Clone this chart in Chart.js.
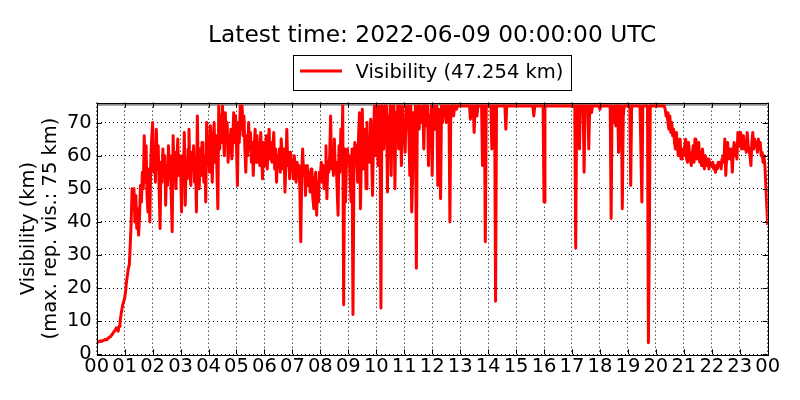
<!DOCTYPE html>
<html>
<head>
<meta charset="utf-8">
<title>Visibility</title>
<script src="https://cdn.jsdelivr.net/npm/chart.js@4/dist/chart.umd.min.js"></script>
<style>
    html, body { margin: 0; padding: 0; background: #fff; }
    #wrap { width: 800px; height: 400px; }
</style>
</head>
<body>
<div id="wrap"><canvas id="visChart" width="800" height="400"></canvas></div>
<script>
// Tick labels on the time axis (hours UTC)
const hourLabels = ['00', '01', '02', '03', '04', '05', '06', '07', '08', '09', '10', '11',
                    '12', '13', '14', '15', '16', '17', '18', '19', '20', '21', '22', '23', '00'];

// Visibility in km, one value every 2 minutes from 00:00 to 24:00 (30 per hour)
const stepMinutes = 2;
const visibility = [
    // 00
    3.6, 3.8, 3.7, 3.9, 4.1, 3.9, 4.0, 4.2, 4.3, 4.5, 4.4, 4.6, 4.8, 5.0, 5.2,
    5.4, 5.8, 6.2, 6.6, 7.0, 7.4, 8.0, 7.6, 7.0, 8.5, 9.8, 11.8, 13.5, 15, 16,
    // 01
    17, 19, 22, 24, 26, 27, 33, 40, 50, 45, 50, 40, 48, 38, 44,
    36, 42, 51, 46, 55, 50, 66, 52, 63, 48, 43, 56, 40, 58, 65,
    // 02
    70, 55, 62, 52, 68, 56, 63, 50, 38, 58, 52, 62, 54, 60, 45,
    57, 51, 63, 53, 60, 48, 37, 66, 55, 61, 50, 58, 65, 54, 60,
    // 03
    58, 43, 60, 52, 67, 45, 58, 53, 62, 68, 55, 51, 61, 56, 63,
    52, 59, 43, 72, 55, 50, 62, 54, 64, 57, 52, 60, 46, 70, 62,
    // 04
    62, 55, 69, 60, 52, 64, 70, 58, 66, 56, 44, 75, 62, 72, 64,
    75, 66, 60, 73, 64, 70, 58, 66, 61, 68, 59, 65, 73, 64, 72,
    // 05
    63, 51, 70, 64, 75, 68, 75, 66, 72, 62, 55, 66, 60, 70, 62,
    67, 58, 64, 54, 62, 68, 58, 66, 59, 64, 57, 67, 60, 53, 64,
    // 06
    62, 57, 66, 56, 63, 68, 59, 64, 58, 62, 67, 56, 62, 52, 60,
    57, 62, 55, 65, 60, 56, 62, 49, 58, 68, 57, 61, 53, 61, 56,
    // 07
    58, 53, 60, 55, 52, 58, 54, 57, 50, 34, 55, 62, 54, 57, 48,
    55, 57, 51, 55, 49, 56, 52, 47, 44, 53, 55, 42, 52, 46, 55,
    // 08
    54, 58, 52, 57, 50, 56, 63, 47, 58, 55, 60, 72, 56, 62, 54,
    65, 56, 58, 50, 42, 63, 55, 68, 58, 75, 15, 62, 46, 58, 62,
    // 09
    58, 60, 52, 46, 62, 12, 55, 64, 58, 63, 52, 66, 73, 44, 60,
    74, 56, 62, 68, 50, 70, 58, 64, 58, 71, 60, 48, 66, 75, 60,
    // 10
    75, 66, 57, 75, 68, 14, 75, 70, 62, 75, 66, 75, 49, 72, 64,
    75, 54, 75, 68, 75, 50, 73, 65, 75, 62, 75, 70, 57, 75, 66,
    // 11
    68, 61, 75, 70, 75, 66, 54, 75, 43, 54, 73, 65, 75, 26, 72,
    75, 68, 75, 71, 70, 75, 62, 75, 75, 69, 75, 57, 72, 66, 75,
    // 12
    54, 75, 68, 75, 70, 75, 51, 74, 67, 47, 75, 70, 75, 72, 75,
    70, 75, 73, 75, 40, 75, 73, 75, 72, 75, 75, 74, 75, 75, 75,
    // 13
    75, 75, 75, 75, 75, 75, 75, 75, 75, 75, 75, 71, 75, 75, 75,
    67, 75, 75, 72, 75, 75, 75, 75, 75, 57, 75, 75, 34, 75, 75,
    // 14
    75, 75, 75, 75, 62, 75, 75, 75, 16, 75, 75, 75, 75, 75, 75,
    75, 75, 75, 75, 68, 75, 75, 75, 75, 75, 75, 75, 75, 75, 75,
    // 15
    75, 75, 75, 75, 75, 75, 75, 75, 75, 75, 75, 75, 75, 75, 75,
    75, 75, 75, 75, 72, 75, 75, 75, 75, 75, 75, 75, 75, 75, 75,
    // 16
    46, 75, 75, 75, 75, 75, 75, 75, 75, 75, 75, 75, 75, 75, 75,
    75, 75, 75, 75, 75, 75, 75, 75, 75, 75, 75, 75, 75, 75, 75,
    // 17
    75, 75, 75, 75, 32, 75, 75, 75, 62, 75, 75, 75, 75, 55, 75,
    75, 75, 75, 62, 75, 75, 73, 75, 75, 75, 75, 75, 75, 75, 75,
    // 18
    74, 75, 75, 75, 75, 75, 75, 75, 75, 75, 75, 75, 41, 75, 75,
    70, 75, 69, 75, 75, 61, 75, 70, 75, 44, 72, 75, 75, 75, 75,
    // 19
    75, 75, 75, 51, 75, 75, 75, 75, 75, 75, 75, 75, 75, 75, 75,
    46, 75, 75, 75, 75, 75, 75, 3.5, 35, 75, 75, 75, 75, 75, 75,
    // 20
    75, 75, 75, 75, 75, 75, 75, 75, 75, 75, 74, 72, 73, 70, 68,
    72, 67, 70, 66, 68, 64, 62, 67, 64, 60, 63, 65, 59, 62, 60,
    // 21
    60, 63, 65, 59, 58, 64, 61, 59, 57, 60, 63, 58, 65, 60, 59,
    63, 64, 58, 61, 57, 62, 59, 56, 60, 58, 57, 59, 56, 58, 57,
    // 22
    57, 58, 56, 57, 55, 57, 56, 58, 57, 58, 56, 59, 60, 58, 65,
    54, 60, 64, 59, 62, 59, 62, 55, 61, 64, 60, 63, 59, 67, 63,
    // 23
    64, 67, 62, 63, 66, 62, 64, 61, 67, 63, 62, 60, 57, 64, 67,
    62, 65, 63, 64, 61, 65, 62, 64, 60, 61, 58, 60, 57, 51, 45,
    // 24
    39
];

const maxRepVis = 75;        // km, maximum reported visibility
const greyLineValue = 75.5;  // grey reference line just under the top spine
const yMax = 76;
const latestLabel = 'Visibility (47.254 km)';
const titleText = 'Latest time: 2022-06-09 00:00:00 UTC';

const FONT = "'DejaVu Sans', 'Liberation Sans', sans-serif";
Chart.defaults.font.family = FONT;
Chart.defaults.color = '#000';

/**
 * Build {x, y} points, x in hours
 */
function buildPoints(values) {
    return values.map((v, i) => ({ x: i * stepMinutes / 60, y: v }));
}

/**
 * Plot frame and inward tick marks (matplotlib classic look)
 */
const framePlugin = {
    id: 'frame',
    afterDraw(chart) {
        const { ctx, chartArea: a, scales } = chart;
        ctx.save();
        ctx.strokeStyle = '#000';
        ctx.lineWidth = 1;
        ctx.setLineDash([]);
        ctx.beginPath();
        for (let h = 0; h <= 24; h++) {
            const x = Math.round(scales.x.getPixelForValue(h)) + 0.5;
            ctx.moveTo(x, a.bottom); ctx.lineTo(x, a.bottom - 5);
            ctx.moveTo(x, a.top); ctx.lineTo(x, a.top + 5);
        }
        for (let v = 0; v <= 70; v += 10) {
            const y = Math.round(scales.y.getPixelForValue(v)) + 0.5;
            ctx.moveTo(a.left, y); ctx.lineTo(a.left + 5, y);
            ctx.moveTo(a.right, y); ctx.lineTo(a.right - 5, y);
        }
        ctx.stroke();
        ctx.strokeRect(Math.round(a.left) + 0.5, Math.round(a.top) + 0.5,
                       Math.round(a.right - a.left), Math.round(a.bottom - a.top));
        ctx.restore();
    }
};

/**
 * Title and boxed legend, centred over the plot area
 */
const headerPlugin = {
    id: 'header',
    afterDraw(chart) {
        const { ctx, chartArea: a } = chart;
        const cx = (a.left + a.right) / 2;
        ctx.save();
        ctx.fillStyle = '#000';
        ctx.textBaseline = 'alphabetic';

        // Title
        ctx.font = '23.3px ' + FONT;
        ctx.textAlign = 'center';
        ctx.fillText(titleText, cx, 42.3);

        // Legend
        ctx.font = '19.5px ' + FONT;
        const textW = ctx.measureText(latestLabel).width;
        const boxW = 7 + 42 + 13.5 + textW + 8;
        const boxL = cx - boxW / 2;
        ctx.strokeStyle = '#000';
        ctx.lineWidth = 1;
        ctx.strokeRect(Math.round(boxL) + 0.5, 55.5, Math.round(boxW), 35);

        ctx.strokeStyle = '#ff0000';
        ctx.lineWidth = 3;
        ctx.beginPath();
        ctx.moveTo(boxL + 7, 71);
        ctx.lineTo(boxL + 49, 71);
        ctx.stroke();

        ctx.textAlign = 'left';
        ctx.fillText(latestLabel, boxL + 62.5, 78.3);
        ctx.restore();
    }
};

const tickFont = { size: 19.5 };

new Chart(document.getElementById('visChart'), {
    type: 'line',
    data: {
        datasets: [
            {
                label: latestLabel,
                data: buildPoints(visibility),
                borderColor: '#ff0000',
                borderWidth: 3,
                borderJoinStyle: 'round',
                pointRadius: 0,
                tension: 0,
                fill: false,
                order: 0
            },
            {
                label: 'max',
                data: [{ x: 0, y: greyLineValue }, { x: 24, y: greyLineValue }],
                borderColor: '#8a8a8a',
                borderWidth: 3,
                pointRadius: 0,
                fill: false,
                order: 1
            }
        ]
    },
    options: {
        responsive: false,
        animation: false,
        devicePixelRatio: 1,
        layout: { padding: { left: 0, top: 102.7, right: 32.3, bottom: 0 } },
        plugins: {
            legend: { display: false },
            title: { display: false },
            tooltip: { enabled: false }
        },
        scales: {
            x: {
                type: 'linear',
                min: 0,
                max: 24,
                ticks: {
                    stepSize: 1,
                    autoSkip: false,
                    maxRotation: 0,
                    padding: 1,
                    font: tickFont,
                    callback: (v) => hourLabels[Math.round(v)]
                },
                grid: { color: '#000', lineWidth: 1, drawTicks: false },
                border: { display: false, dash: [1, 3] },
                afterFit: (s) => { s.height = 45.7; }
            },
            y: {
                min: 0,
                max: yMax,
                ticks: {
                    stepSize: 10,
                    includeBounds: false,
                    padding: 5,
                    font: tickFont
                },
                grid: { color: '#000', lineWidth: 1, drawTicks: false },
                border: { display: false, dash: [1, 3] },
                title: {
                    display: true,
                    text: ['Visibility (km)', '(max. rep. vis.: ' + maxRepVis + ' km)'],
                    font: { size: 19.5, lineHeight: '22px' },
                    padding: { top: 17.5, bottom: 0 }
                },
                afterFit: (s) => { s.width = 96.7; }
            }
        }
    },
    plugins: [framePlugin, headerPlugin]
});
</script>
</body>
</html>
